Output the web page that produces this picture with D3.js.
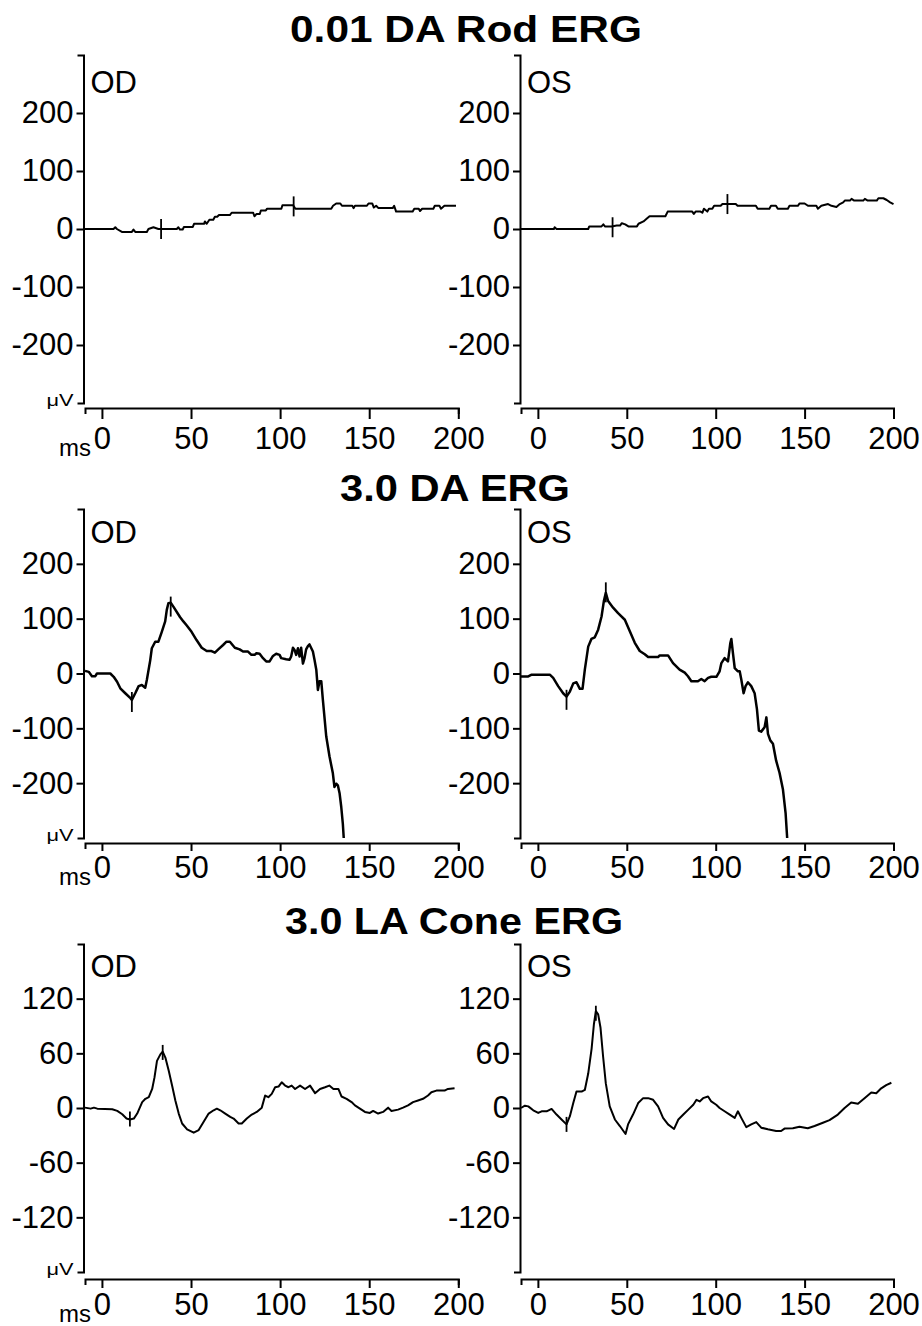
<html>
<head>
<script src="https://d3js.org/d3.v7.min.js"></script>
<style>
    body { margin: 0; background: #fff; }
    text { font-family: "Liberation Sans", Arial, sans-serif; fill: #000; }
    .axis path, .axis line { stroke: #000; stroke-width: 2px; }
    .trace { fill: none; stroke: #000; stroke-linejoin: round; }
    .marker { stroke: #000; stroke-width: 1.8px; }
</style>
</head>
<body>
<script>
    var titles = ["0.01 DA Rod ERG", "3.0 DA ERG", "3.0 LA Cone ERG"];
    var eyes = ["OD", "OS"];
    var xTicks = [0, 50, 100, 150, 200];
    var yTicksDA = [-200, -100, 0, 100, 200];
    var yTicksLA = [-120, -60, 0, 60, 120];

    // [ms, µV]
    var rodOD = [[-9.5,0],[6.5,0],[7.5,3],[8.4,0],[11.2,-5],[16.8,-5],[17.7,-1],[18.7,-5],[25.2,-5],[26.1,0],[28.9,3],[31.7,0],
        [42,0],[42.9,3],[43.8,-1],[45.3,-1],[46,3.5],[51,3.5],[51.7,9],[57.3,9],[57.8,13],[58.8,9],[60.3,16],[62.5,16],[63.4,21],
        [64.7,21],[65.7,24],[71.8,24],[72.8,28],[84.9,28],[85.6,22],[86.8,26],[88.6,26],[89.2,32],[92,32],[92.7,35],[100.7,35],
        [101.3,41],[107.3,41],[108.6,35],[128.7,35],[129.7,40],[131.5,44],[133.8,44],[134.7,40],[140.5,40],[141.2,36],[142,40],
        [148.7,40],[149.6,44],[151.7,44],[152.6,37],[153.9,40],[155.2,36],[163.2,36],[164,40],[165.1,30],[174.4,30],[175.3,35],
        [177.8,35],[178.5,31],[179.7,35],[186,35],[186.8,40],[189.4,40],[190.3,35],[192.2,40],[198.7,40]];
    var rodOS = [[-9.5,0],[9,0],[9.4,3],[10.5,0],[28.3,0],[28.9,4.5],[35.8,4.5],[36.8,8],[37.7,4.5],[41.5,4.5],[44.3,6],[46.2,6],
        [47.2,10],[49.1,8],[50.9,4.5],[55.7,4.5],[56.6,9],[59.4,13],[61.3,18],[62.8,22],[71.7,22],[73,30],[86.8,30],[87.7,26],
        [88.7,30],[91.5,30],[92.5,28],[93.4,35],[95.3,30],[96.2,35],[98.1,35],[99.1,40],[102.8,40],[103.8,43],[111.3,43],
        [112.3,40],[122.6,40],[123.6,35],[130.2,35],[131.1,40],[133.9,40],[134.9,35],[140.6,35],[141.5,40],[146.2,40],[147.2,44],
        [150,44],[151.9,40],[156.6,40],[157.5,35],[159.4,40],[163.2,43],[165.1,40],[167.9,38],[169.8,43],[171.7,46],[172.6,49],
        [175.5,49],[176.4,52],[177.9,49],[183,49],[183.9,52],[185.5,49],[190.6,49],[191.5,53],[194.3,53],[196.2,50],[198.1,46],[200,43]];
    var daOD = [[-9.5,4.8],[-7.4,3],[-5.6,-4.9],[-3.7,-4.9],[-2.8,0],[4.7,0],[6.6,-6],[8.5,-15],[10.3,-27],[13.1,-36],[16,-45],
        [16.8,-48],[18.7,-36],[20.6,-23],[22.4,-21],[24.3,-26],[25.2,-12],[27.1,24],[28,46],[29.9,58],[31.7,58],[33.6,76],
        [35.5,95],[36.4,116],[37.3,128],[38.6,129],[40.1,122],[43.8,103],[45.7,95],[47.5,88],[50.3,76],[53.1,61],[56,47],
        [58.8,41],[61.5,41],[63.4,38],[65.3,44],[68,52],[69.9,58],[71.8,58],[74.6,47],[77.3,44],[79.2,40],[82,40],[83.9,34],
        [85.7,34],[86.7,37],[88.5,36],[90.4,28],[92.2,22],[94.1,22],[96,32],[97.8,36],[99.7,34],[100.6,28],[103.4,26],[105.3,25],
        [106.2,31],[107.2,47],[108.1,43],[109,34],[110,46],[110.9,31],[111.8,47],[112.8,18],[113.7,28],[114.6,44],[115.6,50],
        [116.5,53],[118.4,40],[119.3,25],[120.3,7],[121.2,-30],[122.1,-14],[123.1,-14],[124,-48],[125.9,-115],[127.7,-151],
        [129.6,-182],[130.5,-207],[131.5,-201],[132.4,-204],[133.4,-219],[134.3,-243],[135.2,-274],[135.7,-300]];
    var daOS = [[-9.5,-5.3],[-5.4,-5.3],[-3.5,-2.2],[6.7,-2.2],[8.6,-8],[11.4,-23],[14.2,-36],[16.1,-42],[18,-33],[19.9,-18],
        [21.7,-16],[23.6,-28],[25.1,-28],[26.4,7],[28.3,49],[30.1,63],[32,66],[33.9,80],[35.8,104],[37.1,132],[38.2,147],
        [39.5,132],[42.3,120],[45.1,110],[48.9,98],[51.7,77],[54.5,56],[57.3,41],[60.1,35],[62,30],[67.6,30],[68.5,33],[73.2,33],
        [76,19],[79.7,7],[82.6,1.5],[84.4,-5],[86.3,-14],[90,-14],[91.9,-10],[93.8,-14],[95.7,-8],[97.5,-6],[100.4,-6],[102.2,4],
        [103.2,19],[105,28],[106.9,22],[108.2,55],[108.8,63],[109.7,37],[110.7,10],[112.5,4],[113.5,4],[114.4,-11],[115.7,-36],
        [116.8,-23],[118.1,-16],[120,-23],[121.9,-36],[123.2,-65],[124.3,-104],[125.6,-106],[127.5,-98],[128.5,-80],[129.4,-110],
        [130.7,-122],[132.2,-128],[134,-159],[135.9,-181],[137.8,-211],[139.3,-254],[140.2,-300]];
    var coneOD = [[-9.5,0.4],[-6.3,-0.7],[-4.5,0.4],[-2.6,-0.7],[5.8,-1.4],[8.6,-3.2],[11.4,-6.9],[13.8,-11.6],[15.7,-12.6],
        [17.9,-11.6],[19.8,-6.1],[22.6,6.5],[24.4,10.1],[26.3,11.9],[28.2,20.9],[29.5,33.6],[30.9,51.7],[32.8,58.9],[34.1,61.8],
        [35.6,55.3],[37.5,40.8],[39.4,24.5],[41.2,8.3],[43.1,-6.1],[45,-17],[47.8,-23.5],[51.5,-27.1],[54.3,-24.2],[57.1,-15.2],
        [59.9,-6.1],[62.7,-2.5],[64.5,-0.7],[66.4,-2.5],[69.2,-6.1],[72,-9.8],[73.9,-11.6],[76.7,-17],[78.5,-17],[81.3,-11.6],
        [84.1,-7.2],[86.9,-4.3],[89.7,0.4],[91.6,13.7],[93.4,11.9],[95.3,15.5],[97.2,22.8],[99.1,23.5],[100.9,28.2],[102.8,24.6],
        [104.7,22.8],[106.5,24.6],[108.4,20.9],[111.2,24.6],[114,20.9],[116.8,24.6],[119.6,16.3],[122.4,20.9],[125.2,22.8],
        [127.6,24.6],[129.9,20.9],[132.7,20.9],[134.5,12.6],[137.3,10.1],[140.1,6.5],[142,2.9],[144.8,-0.7],[147.6,-4.3],
        [150.4,-5.4],[152.2,-3.2],[155,-6.1],[157.8,-4.3],[160.6,0.4],[162.5,-3.2],[166.2,-1.8],[169,0.4],[171.8,2.9],[174.6,6.5],
        [177.4,8.3],[180.2,10.1],[183,13.7],[184.9,17.3],[187.7,19.1],[192.3,19.1],[194.2,20.9],[197.9,21.7]];
    var coneOS = [[-9.5,0],[-7.3,2.5],[-5.4,1.8],[-2.6,-2.5],[0.2,-5.4],[2.1,-3.6],[4.9,-3.6],[7.7,-1],[10.5,-7.2],[13.3,-12.6],
        [16.1,-18],[18,-9],[19.9,5.4],[21.7,18],[24.6,18],[26.4,19.8],[28.3,37.8],[30.2,64.9],[31.5,91.9],[32.6,106.4],[33.9,102.8],
        [35.2,88.4],[36.7,56],[38.2,27],[40.4,1.8],[43.3,-12.6],[46.1,-19.8],[49.3,-28.5],[50.7,-18],[53.5,-7.2],[56.4,5.4],
        [59.2,10.8],[62,10.8],[64.8,9],[67.6,1.8],[70.4,-10.8],[73.2,-18],[76.6,-23],[79,-12.6],[81.8,-7.2],[84.6,-1.8],[87.4,3.6],
        [89.2,9],[91,7.2],[92.9,10.8],[95.7,12.6],[97.5,7.2],[100.3,3.6],[102.2,0],[105,-3.6],[107.9,-7.2],[110.7,-10.8],[112.5,-3.6],
        [114.4,-10.8],[117.2,-21],[120,-18],[122.8,-15.5],[125.6,-21.6],[129.3,-23.4],[134,-25.2],[136.8,-25.2],[138.7,-22.6],
        [143.4,-22.3],[147.1,-20.5],[151.8,-22.3],[155.6,-19.8],[160.3,-16.2],[164,-13.3],[168.7,-7.2],[172.5,0],[176.2,6.1],
        [180,4.7],[183.7,10.8],[187.5,16.9],[190.3,16.2],[193.1,21.6],[195.9,25.2],[198.8,27.7]];

    // cursor marks [ms, µV]
    var rodODMarks = [[33.2, 0], [107.6, 39]];
    var rodOSMarks = [[42, 3], [106.6, 43]];
    var daODMarks = [[16.8, -52], [38.6, 122]];
    var daOSMarks = [[16.1, -48], [38.2, 148]];
    var coneODMarks = [[15.7, -12], [34.1, 61]];
    var coneOSMarks = [[16.1, -18], [32.6, 104]];

    var rows = [
        { title: titles[0], cx: 466, tw: 352, ty: 42, top: 55, bottom: 403, xAxisY: 408, lab: 93, ymax: 300, ticks: yTicksDA,
          tick: 11, pad: 8, lw: 2, mlen: 20, traces: [rodOD, rodOS], marks: [rodODMarks, rodOSMarks] },
        { title: titles[1], cx: 455, tw: 230, ty: 501, top: 509, bottom: 838, xAxisY: 843, lab: 543, ymax: 300, ticks: yTicksDA,
          tick: 8, pad: 5, lw: 2.5, mlen: 20, traces: [daOD, daOS], marks: [daODMarks, daOSMarks] },
        { title: titles[2], cx: 454, tw: 338, ty: 934, top: 944, bottom: 1272, xAxisY: 1279, lab: 977, ymax: 180, ticks: yTicksLA,
          tick: 9, pad: 5, lw: 2, mlen: 15, traces: [coneOD, coneOS], marks: [coneODMarks, coneOSMarks] }
    ];
    var cols = [{ axisX: 83.5, x0: 85, x1: 458.3 }, { axisX: 520, x0: 521, x1: 893.5 }];

    var svg = d3.select("body").append("svg")
        .attr("width", 922)
        .attr("height", 1326);

    rows.forEach(function (r) {
        svg.append("text")
            .attr("x", r.cx)
            .attr("y", r.ty)
            .attr("text-anchor", "middle")
            .attr("font-size", 37)
            .attr("font-weight", "bold")
            .attr("textLength", r.tw)
            .attr("lengthAdjust", "spacingAndGlyphs")
            .text(r.title);

        var y = d3.scaleLinear().domain([-r.ymax, r.ymax]).range([r.bottom, r.top]);

        cols.forEach(function (c, i) {
            var x = d3.scaleLinear().domain([-9.5, 200]).range([c.x0, c.x1]);

            svg.append("g")
                .attr("class", "axis")
                .attr("transform", "translate(" + c.axisX + ",0)")
                .call(d3.axisLeft(y).tickValues(r.ticks).tickSizeInner(7).tickSizeOuter(6).tickPadding(3).tickFormat(String))
                .attr("font-size", 31);

            svg.append("g")
                .attr("class", "axis")
                .attr("transform", "translate(0," + r.xAxisY + ")")
                .call(d3.axisBottom(x).tickValues(xTicks).tickSizeInner(r.tick).tickSizeOuter(6).tickPadding(r.pad).tickFormat(String))
                .attr("font-size", 31);

            svg.append("text")
                .attr("x", c.axisX + 7)
                .attr("y", r.lab)
                .attr("font-size", 31)
                .text(eyes[i]);

            if (i === 0) {
                svg.append("text")
                    .attr("x", c.axisX - 10)
                    .attr("y", r.bottom + 3)
                    .attr("text-anchor", "end")
                    .attr("font-size", 16)
                    .attr("textLength", 27)
                    .attr("lengthAdjust", "spacingAndGlyphs")
                    .text("μV");
                svg.append("text")
                    .attr("x", x(0) - 11)
                    .attr("y", r.xAxisY + r.tick + r.pad + 21.5 + 7)
                    .attr("text-anchor", "end")
                    .attr("font-size", 23)
                    .attr("textLength", 32)
                    .attr("lengthAdjust", "spacingAndGlyphs")
                    .text("ms");
            }

            var line = d3.line()
                .x(function (d) { return x(d[0]); })
                .y(function (d) { return y(d[1]); });

            svg.append("path")
                .datum(r.traces[i])
                .attr("class", "trace")
                .attr("stroke-width", r.lw)
                .attr("d", line);

            svg.selectAll(null)
                .data(r.marks[i])
                .enter().append("line")
                .attr("class", "marker")
                .attr("x1", function (d) { return x(d[0]); })
                .attr("x2", function (d) { return x(d[0]); })
                .attr("y1", function (d) { return y(d[1]) - r.mlen / 2; })
                .attr("y2", function (d) { return y(d[1]) + r.mlen / 2; });
        });
    });
</script>
</body>
</html>
